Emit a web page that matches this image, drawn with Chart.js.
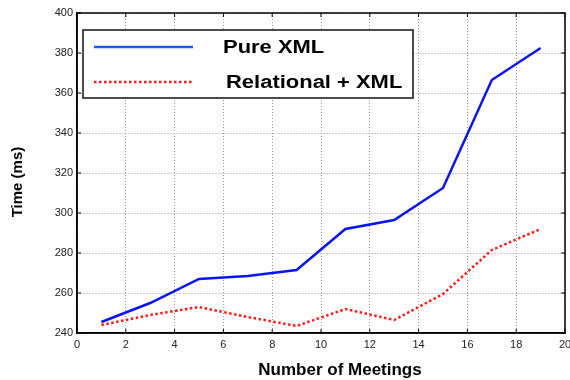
<!DOCTYPE html>
<html>
<head>
<meta charset="utf-8">
<script src="https://cdn.jsdelivr.net/npm/chart.js@4.4.0/dist/chart.umd.min.js"></script>
<style>
  html, body { margin: 0; padding: 0; background: #fff; }
  #wrap { width: 570px; height: 380px; }
</style>
</head>
<body>
<div id="wrap"><canvas id="myChart" width="570" height="380"></canvas></div>
<script>
var meetings = [1, 3, 5, 7, 9, 11, 13, 15, 17, 19];
var pureXml = [245.5, 255, 267, 268.5, 271.5, 292, 296.5, 312.5, 366.5, 382.5];
var relationalXml = [244, 249, 253, 248, 243.5, 252, 246.5, 259.5, 281.5, 292];
var xTicks = [0, 2, 4, 6, 8, 10, 12, 14, 16, 18, 20];
var yTicks = [240, 260, 280, 300, 320, 340, 360, 380, 400];
var xTitle = 'Number of Meetings';
var yTitle = 'Time (ms)';

function toPoints(xs, ys) {
    return xs.map(function(x, i) { return {x: x, y: ys[i]}; });
}

// frame around the plot, inward tick marks, axis titles and the boxed legend
var framePlugin = {
    id: 'frame',
    afterDraw: function(chart) {
        var ctx = chart.ctx;
        var a = chart.chartArea;
        ctx.save();
        ctx.strokeStyle = '#000';
        ctx.lineWidth = 1.5;
        ctx.strokeRect(a.left, a.top, a.right - a.left, a.bottom - a.top);

        ctx.lineWidth = 1;
        ctx.beginPath();
        chart.scales.x.ticks.forEach(function(t) {
            var px = chart.scales.x.getPixelForValue(t.value);
            ctx.moveTo(px, a.bottom); ctx.lineTo(px, a.bottom - 4);
            ctx.moveTo(px, a.top); ctx.lineTo(px, a.top + 4);
        });
        chart.scales.y.ticks.forEach(function(t) {
            var py = chart.scales.y.getPixelForValue(t.value);
            ctx.moveTo(a.left, py); ctx.lineTo(a.left + 4, py);
            ctx.moveTo(a.right, py); ctx.lineTo(a.right - 4, py);
        });
        ctx.stroke();

        // axis titles
        ctx.fillStyle = '#000';
        ctx.textAlign = 'center';
        ctx.textBaseline = 'middle';
        ctx.font = 'bold 17px "Liberation Sans", Arial, sans-serif';
        ctx.fillText(xTitle, 340, 370);
        ctx.save();
        ctx.translate(18, 182);
        ctx.rotate(-Math.PI / 2);
        ctx.font = 'bold 15px "Liberation Sans", Arial, sans-serif';
        ctx.fillText(yTitle, 0, 0);
        ctx.restore();

        // legend box
        var bx = 83, by = 30, bw = 330, bh = 68;
        ctx.fillStyle = '#fff';
        ctx.fillRect(bx, by, bw, bh);
        ctx.lineWidth = 1.5;
        ctx.strokeStyle = '#111';
        ctx.strokeRect(bx, by, bw, bh);

        var rows = [47, 82];
        var textX = [223, 226];
        chart.data.datasets.forEach(function(ds, i) {
            ctx.save();
            ctx.strokeStyle = i === 0 ? '#1a5cff' : ds.borderColor;
            ctx.lineWidth = 2.5;
            ctx.setLineDash(ds.borderDash || []);
            ctx.beginPath();
            ctx.moveTo(94, rows[i]);
            ctx.lineTo(193, rows[i]);
            ctx.stroke();
            ctx.restore();

            ctx.save();
            ctx.fillStyle = '#000';
            ctx.font = 'bold 18px "Liberation Sans", Arial, sans-serif';
            ctx.textAlign = 'left';
            ctx.textBaseline = 'middle';
            ctx.translate(textX[i], rows[i]);
            ctx.scale(1.22, 1);
            ctx.fillText(ds.label, 0, 1);
            ctx.restore();
        });
        ctx.restore();
    }
};

var ctx = document.getElementById('myChart').getContext('2d');
var myChart = new Chart(ctx, {
    type: 'line',
    data: {
        datasets: [{
            label: 'Pure XML',
            data: toPoints(meetings, pureXml),
            borderColor: '#0a14f0',
            borderWidth: 2.5,
            pointRadius: 0,
            tension: 0,
            fill: false
        }, {
            label: 'Relational + XML',
            data: toPoints(meetings, relationalXml),
            borderColor: '#ff1a1a',
            borderWidth: 2.5,
            borderDash: [2.5, 2.5],
            pointRadius: 0,
            tension: 0,
            fill: false
        }]
    },
    options: {
        responsive: false,
        animation: false,
        layout: {
            padding: {left: 0, right: 0, top: 13, bottom: 0}
        },
        plugins: {
            legend: { display: false },
            tooltip: { enabled: false }
        },
        scales: {
            x: {
                type: 'linear',
                min: 0,
                max: 20,
                afterBuildTicks: function(scale) {
                    scale.ticks = xTicks.map(function(v) { return {value: v}; });
                },
                afterFit: function(scale) {
                    scale.height = 47;
                    scale.paddingRight = 5;
                },
                grid: { color: '#9a9a9a', lineWidth: 1, drawTicks: false },
                border: { display: true, color: '#000', width: 1.5, dash: [1, 2] },
                ticks: {
                    padding: 5,
                    color: '#222',
                    font: { family: '"Liberation Sans", Arial, sans-serif', size: 11 },
                    maxRotation: 0,
                    autoSkip: false
                }
            },
            y: {
                min: 240,
                max: 400,
                afterBuildTicks: function(scale) {
                    scale.ticks = yTicks.map(function(v) { return {value: v}; });
                },
                afterFit: function(scale) { scale.width = 77; },
                grid: { color: '#9a9a9a', lineWidth: 1, drawTicks: false },
                border: { display: true, color: '#000', width: 1.5, dash: [1, 2] },
                ticks: {
                    padding: 4,
                    color: '#222',
                    font: { family: '"Liberation Sans", Arial, sans-serif', size: 11 }
                }
            }
        }
    },
    plugins: [framePlugin]
});
</script>
</body>
</html>
